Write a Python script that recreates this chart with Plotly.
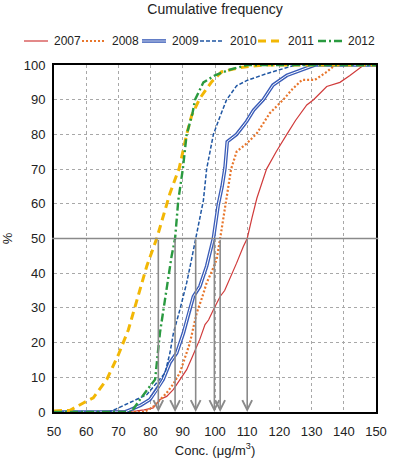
import plotly.graph_objects as go

# ---------------- data ----------------
years = ["2007", "2008", "2009", "2010", "2011", "2012"]

conc_2007 = [50, 75.7, 78, 80.8, 82.9, 85, 87.1, 89, 91.2, 93, 95.3, 96.9, 98, 99.5, 101.6, 103,
             104.1, 105.5, 106.7, 108.8, 110, 111.5, 113, 116, 119, 122.3, 125, 128.5, 130.6,
             134.7, 138.8, 141.9, 145.5, 147, 150]
freq_2007 = [0, 0.3, 0.6, 1.2, 3.6, 4.5, 6.5, 9, 12.2, 16, 21, 25.2, 26.5, 29.5, 33.3, 35,
             37.2, 40.5, 42.9, 47.7, 50, 56, 61.6, 70, 75, 80, 84, 88.5, 90,
             93.8, 95, 97, 99.5, 100, 100]

conc_2008 = [50, 78, 80.8, 83, 85, 87, 89.1, 92.2, 94.3, 96, 97.4, 99, 100.5, 101.6, 103.6,
             105, 106.7, 110, 113, 117, 121.2, 124, 127, 131, 134.7, 137.3, 150]
freq_2008 = [0, 0, 1.5, 3.5, 5.5, 8, 11.3, 19.9, 28.5, 33, 37.2, 40.5, 43.9, 50, 62.6,
             70, 75, 77.5, 80.3, 86.1, 90, 93, 95.7, 95.7, 98, 100, 100]

conc_2009 = [50, 72, 73.6, 77, 79.8, 82, 83.9, 86, 88.1, 90.2, 92, 93.3, 95.3, 97.4, 99.5,
             101, 102.2, 103.1, 103.8, 106.7, 109.8, 112, 115, 118, 122.3, 129.5, 131, 150]
freq_2009 = [0, 0, 0.6, 2, 3.6, 6.5, 9.4, 14.2, 17, 22.8, 29, 33.3, 36.2, 42, 50,
             59.7, 65, 70.3, 77.9, 80, 83.7, 87, 90, 94.2, 97, 99.5, 100, 100]

conc_2010 = [50, 67, 68.9, 72, 74.6, 78.8, 81.9, 84.5, 86, 87.1, 89.1, 91.2, 92.5, 94, 96.4,
             97.4, 99.5, 101.5, 103.6, 106.7, 109.8, 116, 123, 125, 150]
freq_2010 = [0, 0, 0.7, 2, 3.1, 5, 8.4, 11.3, 17, 22.8, 29.5, 37.2, 43, 50, 61,
             70, 80, 85, 90, 94, 95.5, 97.5, 99.5, 100, 100]

conc_2011 = [50, 55, 59.1, 62.2, 66.4, 70, 73.1, 75.7, 78.8, 81.9, 83.7, 86, 88.9, 91.2,
             92.8, 95.3, 99, 102, 108, 115, 150]
freq_2011 = [0.3, 0.5, 2.6, 4.1, 9.4, 16.5, 23.7, 32, 42, 50, 56, 63, 70.3, 80,
             85.6, 90.4, 95.2, 98, 99.3, 100, 100]

conc_2012 = [50, 74, 76.7, 79.8, 81.4, 82.9, 85.5, 86.5, 87.6, 88.6, 90, 91.2, 93, 93.8,
             96.4, 100, 104, 110, 150]
freq_2012 = [0, 0, 3.6, 7.4, 9.4, 22.8, 39, 44.8, 50, 61, 70, 80, 86, 90,
             95, 97, 98.5, 100, 100]

medians = [110, 101.6, 99.8, 94, 82.4, 87.6]

x_ticks = list(range(50, 151, 10))
y_ticks = list(range(0, 101, 10))

# ---------------- styles ----------------
colors = ["#D03A3A", "#E8762C", "#3A5CB8", "#1F56A3", "#F2B705", "#2A9A40"]
dashes = ["solid", "2px,2px", "solid", "4px,2px", "8px,5px", "8px,3px,2px,3px"]
widths = [1.2, 2.2, 3.6, 1.5, 3.0, 2.4]

conc = [conc_2007, conc_2008, conc_2009, conc_2010, conc_2011, conc_2012]
freq = [freq_2007, freq_2008, freq_2009, freq_2010, freq_2011, freq_2012]

fig = go.Figure()
for i, yr in enumerate(years):
    fig.add_trace(go.Scatter(x=conc[i], y=freq[i], mode="lines", name=yr, showlegend=False,
                             line=dict(color=colors[i], width=widths[i], dash=dashes[i])))
    if yr == "2009":
        fig.add_trace(go.Scatter(x=conc[i], y=freq[i], mode="lines", showlegend=False,
                                 hoverinfo="skip", line=dict(color="white", width=1.0)))

# 50 % line
fig.add_shape(type="line", xref="paper", yref="y", x0=-0.006, x1=1.007, y0=50, y1=50,
              line=dict(color="#8A8A8A", width=1.6), layer="above")

# median arrows
for m in medians:
    fig.add_annotation(x=m, y=0, ax=m, ay=50, xref="x", yref="y", axref="x", ayref="y",
                       text="", showarrow=True, arrowhead=5, arrowsize=1.2, arrowwidth=1.6,
                       arrowcolor="#8A8A8A", standoff=0)

# manual legend
L, R, T, B = 54, 376, 65, 412
def px(xp):
    return (xp - L) / (R - L)
def py(yp):
    return (B - yp) / (B - T)

leg_line_x = [24, 82, 142, 200, 258, 318]
leg_y = 41
for i, yr in enumerate(years):
    x0 = leg_line_x[i]
    fig.add_shape(type="line", xref="paper", yref="paper", x0=px(x0), x1=px(x0 + 24),
                  y0=py(leg_y), y1=py(leg_y),
                  line=dict(color=colors[i], width=widths[i], dash=dashes[i]))
    if yr == "2009":
        fig.add_shape(type="line", xref="paper", yref="paper", x0=px(x0), x1=px(x0 + 24),
                      y0=py(leg_y), y1=py(leg_y), line=dict(color="white", width=0.8))
    fig.add_annotation(xref="paper", yref="paper", x=px(x0 + 28), y=py(leg_y), text=yr,
                       showarrow=False, xanchor="left", yanchor="middle",
                       font=dict(size=12, color="#222"))

fig.update_layout(
    width=395, height=473,
    margin=dict(l=L, r=395 - R, t=T, b=473 - B, autoexpand=False),
    paper_bgcolor="white", plot_bgcolor="white",
    font=dict(family="Liberation Sans, Arial, sans-serif", size=13, color="#222"),
    title=dict(text="Cumulative frequency", x=0.5, xref="paper", y=1 - 9 / 473,
               yref="container", xanchor="center", yanchor="middle",
               font=dict(size=14, color="#222")),
    showlegend=False,
)
fig.update_xaxes(range=[50, 150], tickvals=x_ticks, showgrid=True, gridcolor="#A8A8A8",
                 griddash="dot", gridwidth=1, showline=True, linecolor="black", linewidth=1.8,
                 mirror=True, ticks="outside", ticklen=6, tickcolor="rgba(0,0,0,0)",
                 zeroline=False, automargin=False,
                 title=dict(text="Conc. (μg/m<sup>3</sup>)", standoff=8, font=dict(size=13)))
fig.update_yaxes(range=[0, 100], tickvals=y_ticks, showgrid=True, gridcolor="#A8A8A8",
                 griddash="dot", gridwidth=1, showline=True, linecolor="black", linewidth=1.8,
                 mirror=True, ticks="outside", ticklen=4, tickcolor="rgba(0,0,0,0)",
                 zeroline=False, automargin=False,
                 title=dict(text="%", standoff=10, font=dict(size=13)))

fig.write_html("out.html", config={"displayModeBar": False},
               post_script="document.body.style.margin='0px';document.body.style.overflow='hidden';")
